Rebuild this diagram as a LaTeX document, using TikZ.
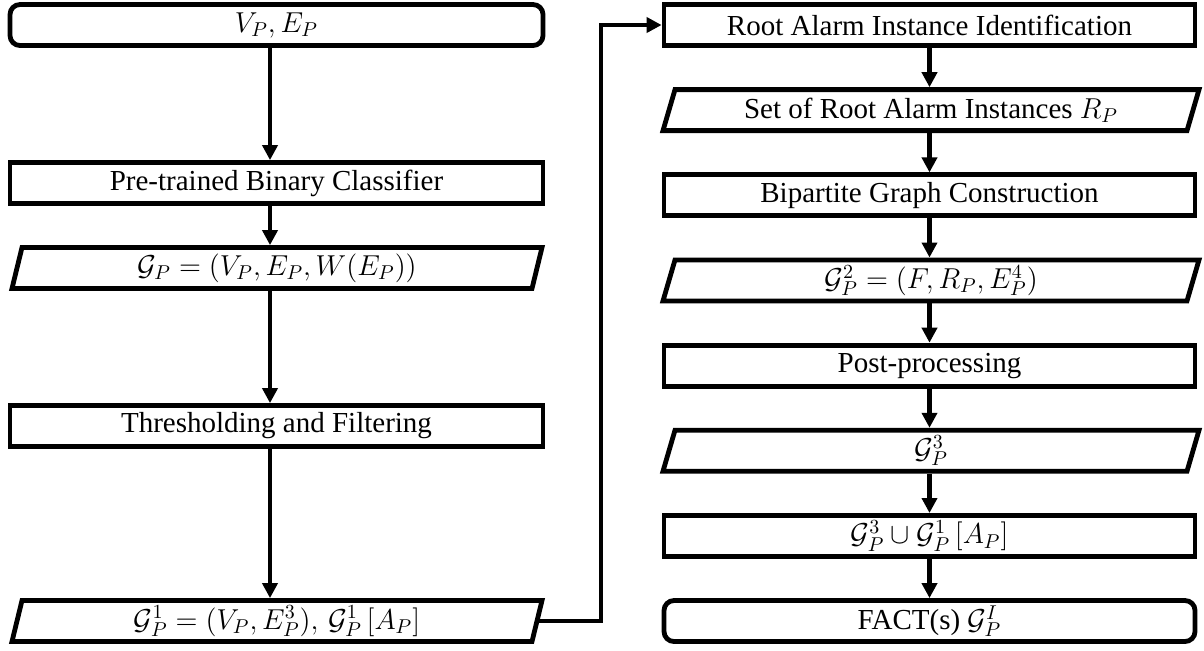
\documentclass[tikz,border=0pt]{standalone}
\usepackage{fontspec}
\setmainfont{Liberation Serif}
\usetikzlibrary{arrows.meta}
\begin{document}
\begin{tikzpicture}[x=0.5pt,y=-0.5pt,
  txt/.style={font=\fontsize{14.5}{17}\selectfont, inner sep=0pt},
  box/.style={txt, draw, line width=2.4pt, minimum width=266.5pt, minimum height=20.5pt},
  rbox/.style={box, minimum width=265.5pt},
  term/.style={box, rounded corners=5pt},
  rterm/.style={rbox, rounded corners=5pt},
  io/.style={txt, minimum width=265pt, minimum height=20.5pt, outer sep=0pt},
  rio/.style={io, minimum width=268pt},
  outl/.style={line width=2.4pt, line join=miter},
  arr/.style={line width=2.4pt, -{Triangle[length=7.5pt,width=7.5pt]}},
]
\useasboundingbox (0,0) rectangle (1204,650);
\newcommand{\para}[2]{\draw[outl] ([xshift=#2]#1.north west) -- (#1.north east) -- ([xshift=-#2]#1.south east) -- (#1.south west) -- cycle;}

% left column
\node[term] (t1) at (276.5,25) {$V_P, E_P$};
\node[box] (pre) at (276.5,183) {Pre-trained Binary Classifier};
\node[io] (gp) at (277,268) {$\mathcal{G}_P = (V_P, E_P, W(E_P))$};
\node[box] (thr) at (276.5,426) {Thresholding and Filtering};
\node[io] (g1) at (277,621) {$\mathcal{G}_P^1 = (V_P, E_P^3),\, \mathcal{G}_P^1\,[A_P]$};
\para{gp}{5pt}
\para{g1}{5pt}

% right column
\node[rbox] (root) at (929.5,25) {Root Alarm Instance Identification};
\node[rio] (set) at (931,110.1) {Set of Root Alarm Instances $R_P$};
\node[rbox] (bip) at (929.5,195.3) {Bipartite Graph Construction};
\node[rio] (g2) at (931,280.4) {$\mathcal{G}_P^2 = (F, R_P, E_P^4)$};
\node[rbox] (post) at (929.5,365.6) {Post-processing};
\node[rio] (g3) at (931,450.7) {$\mathcal{G}_P^3$};
\node[rbox] (uni) at (929.5,535.9) {$\mathcal{G}_P^3 \cup \mathcal{G}_P^1\,[A_P]$};
\node[rterm] (fact) at (929.5,621) {FACT(s) $\mathcal{G}_P^I$};
\para{set}{6pt}
\para{g2}{6pt}
\para{g3}{6pt}

% connectors (left column runs slightly left of centre)
\draw[arr] ([xshift=-3.25pt]t1.south) -- ([xshift=-3.25pt]pre.north);
\draw[arr] ([xshift=-3.25pt]pre.south) -- ([xshift=-3.5pt,yshift=1.2pt]gp.north);
\draw[arr] ([xshift=-3.5pt,yshift=-1.2pt]gp.south) -- ([xshift=-3.25pt]thr.north);
\draw[arr] ([xshift=-3.25pt]thr.south) -- ([xshift=-3.5pt,yshift=1.2pt]g1.north);
\draw[arr] ([xshift=-2.5pt]g1.east) -- ++(64,0) |- (root.west);
\draw[arr] (root.south) -- ([xshift=-0.75pt,yshift=1.2pt]set.north);
\draw[arr] ([xshift=-0.75pt,yshift=-1.2pt]set.south) -- (bip.north);
\draw[arr] (bip.south) -- ([xshift=-0.75pt,yshift=1.2pt]g2.north);
\draw[arr] ([xshift=-0.75pt,yshift=-1.2pt]g2.south) -- (post.north);
\draw[arr] (post.south) -- ([xshift=-0.75pt,yshift=1.2pt]g3.north);
\draw[arr] ([xshift=-0.75pt,yshift=-1.2pt]g3.south) -- (uni.north);
\draw[arr] (uni.south) -- (fact.north);
\end{tikzpicture}
\end{document}
